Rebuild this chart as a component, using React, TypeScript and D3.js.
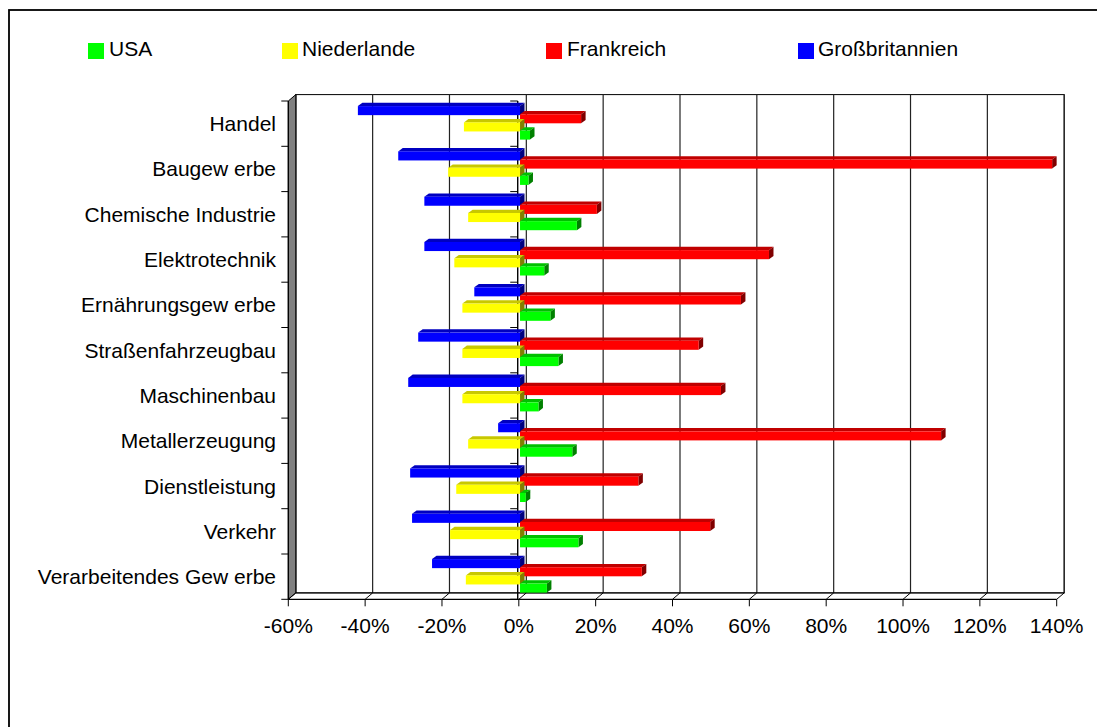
import React from 'react';
import * as d3 from 'd3';

// Branches, listed top to bottom
const categories = [
  'Handel',
  'Baugew erbe',
  'Chemische Industrie',
  'Elektrotechnik',
  'Ernährungsgew erbe',
  'Straßenfahrzeugbau',
  'Maschinenbau',
  'Metallerzeugung',
  'Dienstleistung',
  'Verkehr',
  'Verarbeitendes Gew erbe',
];

// Percent values per country, same order as categories
const usa = [2.6, 2.2, 14.8, 6.3, 7.9, 10.0, 4.8, 13.6, 1.5, 15.2, 7.0];
const niederlande = [-14.6, -18.7, -13.5, -17.1, -15.0, -15.0, -15.0, -13.5, -16.6, -18.2, -14.1];
const frankreich = [15.9, 138.5, 20.0, 64.8, 57.5, 46.5, 52.3, 109.6, 30.8, 49.5, 31.7];
const grossbritannien = [-42.2, -31.7, -24.9, -24.9, -11.9, -26.5, -29.1, -5.7, -28.6, -28.1, -22.9];

const xTicks = [-60, -40, -20, 0, 20, 40, 60, 80, 100, 120, 140];

const legendNames = ['USA', 'Niederlande', 'Frankreich', 'Großbritannien'];

const FONT = '"Liberation Sans", Arial, Helvetica, sans-serif';

// colour sets: front, top, side
const palette: Record<string, [string, string, string]> = {
  USA: ['#00FF00', '#00C000', '#008000'],
  Niederlande: ['#FFFF00', '#C8C800', '#808000'],
  Frankreich: ['#FF0000', '#C00000', '#800000'],
  'Großbritannien': ['#0000FF', '#0000C0', '#000080'],
};

const seriesValues: Record<string, number[]> = {
  USA: usa,
  Niederlande: niederlande,
  Frankreich: frankreich,
  'Großbritannien': grossbritannien,
};

// vertical stacking order of the bars inside each category (top first)
const stackOrder = ['Großbritannien', 'Frankreich', 'Niederlande', 'USA'];

export default function App() {
  const W = 1097;
  const H = 727;

  // front plane of the 3D box
  const x = d3.scaleLinear().domain([-60, 140]).range([288.3, 1056.7]);
  const y = d3.scaleBand<string>().domain(categories).range([101, 599.3]).paddingInner(0).paddingOuter(0);

  // depth offset of the back wall
  const DX = 7.5;
  const DY = -6.4;

  // bar geometry
  const barShiftX = 1.2;
  const barDX = 4.5;
  const barDY = -3.3;
  const bw = y.bandwidth();
  const barH = bw * 0.2;
  const step = bw * 0.18;
  const groupOffset = (bw - (3 * step + barH)) / 2 - 0.8;

  const xb = (v: number) => x(v) + barShiftX;

  const yTop = y.range()[0];
  const yBot = y.range()[1];
  const backLeft = x(-60) + DX;
  const backRight = x(140) + DX;
  const backTop = yTop + DY;
  const backBot = yBot + DY;

  const boundaries = d3.range(categories.length + 1).map((i) => yTop + i * bw);

  const legendPos = [
    { sx: 88, tx: 109 },
    { sx: 282, tx: 302 },
    { sx: 546, tx: 567 },
    { sx: 798, tx: 818 },
  ];

  const zeroX = x(0) - 1.1;

  return (
    <svg
      width={W}
      height={H}
      style={{ position: 'absolute', left: 0, top: 0, display: 'block', background: '#fff' }}
      fontFamily={FONT}
    >
      <rect x={0} y={0} width={W} height={H} fill="#fff" />
      {/* chart frame */}
      <rect x={9} y={10} width={1300} height={900} fill="none" stroke="#000" strokeWidth={1.8} />

      {/* legend */}
      {legendNames.map((name, i) => (
        <g key={name}>
          <rect x={legendPos[i].sx} y={43} width={16} height={16} fill={palette[name][0]} />
          <text x={legendPos[i].tx} y={55.5} fontSize={21} fill="#000">
            {name}
          </text>
        </g>
      ))}

      {/* back wall */}
      <rect
        x={backLeft}
        y={backTop}
        width={backRight - backLeft}
        height={backBot - backTop}
        fill="#fff"
        stroke="#000"
        strokeWidth={1}
      />
      {xTicks.map((t) => (
        <line
          key={'g' + t}
          x1={x(t) + DX}
          x2={x(t) + DX}
          y1={backTop}
          y2={backBot}
          stroke="#222"
          strokeWidth={1.2}
        />
      ))}

      {/* left side wall */}
      <polygon
        points={`${x(-60)},${yTop} ${backLeft},${backTop} ${backLeft},${backBot} ${x(-60)},${yBot}`}
        fill="#808080"
        stroke="#000"
        strokeWidth={1}
      />

      {/* floor */}
      <line x1={backLeft} x2={backRight} y1={backBot} y2={backBot} stroke="#000" strokeWidth={1} />
      <line x1={x(-60)} x2={x(140)} y1={yBot} y2={yBot} stroke="#000" strokeWidth={1.2} />
      {xTicks.map((t) => (
        <g key={'f' + t}>
          <line x1={x(t)} y1={yBot} x2={x(t) + DX} y2={backBot} stroke="#000" strokeWidth={1} />
          <line x1={x(t)} y1={yBot} x2={x(t)} y2={yBot + 7} stroke="#000" strokeWidth={1} />
          <text x={x(t)} y={633} fontSize={21} textAnchor="middle" fill="#000">
            {`${t}%`}
          </text>
        </g>
      ))}

      {/* category axis */}
      <line x1={x(-60)} x2={x(-60)} y1={yTop} y2={yBot} stroke="#000" strokeWidth={1.2} />
      {boundaries.map((b, i) => (
        <line key={'lt' + i} x1={x(-60) - 7} x2={x(-60)} y1={b} y2={b} stroke="#000" strokeWidth={1} />
      ))}

      {/* zero line with its ticks */}
      <line x1={zeroX} x2={zeroX} y1={yTop} y2={yBot} stroke="#000" strokeWidth={1.4} />
      {boundaries.map((b, i) => (
        <line key={'zt' + i} x1={zeroX - 7.5} x2={zeroX} y1={b} y2={b} stroke="#000" strokeWidth={1} />
      ))}

      {/* bars */}
      {categories.map((cat, ci) => (
        <g key={cat}>
          {stackOrder.map((name, si) => {
            const v = seriesValues[name][ci];
            const x1 = xb(Math.min(0, v));
            const x2 = xb(Math.max(0, v));
            const yt = (y(cat) as number) + groupOffset + si * step;
            const [front, top, side] = palette[name];
            return (
              <g key={name}>
                <polygon
                  points={`${x1},${yt} ${x1 + barDX},${yt + barDY} ${x2 + barDX},${yt + barDY} ${x2},${yt}`}
                  fill={top}
                />
                <polygon
                  points={`${x2},${yt} ${x2 + barDX},${yt + barDY} ${x2 + barDX},${yt + barH + barDY} ${x2},${yt + barH}`}
                  fill={side}
                />
                <rect x={x1} y={yt} width={x2 - x1} height={barH} fill={front} />
              </g>
            );
          })}
        </g>
      ))}

      {/* category labels */}
      {categories.map((cat) => (
        <text
          key={'l' + cat}
          x={276}
          y={(y(cat) as number) + bw / 2 + 7.5}
          fontSize={21}
          textAnchor="end"
          fill="#000"
        >
          {cat}
        </text>
      ))}
    </svg>
  );
}
